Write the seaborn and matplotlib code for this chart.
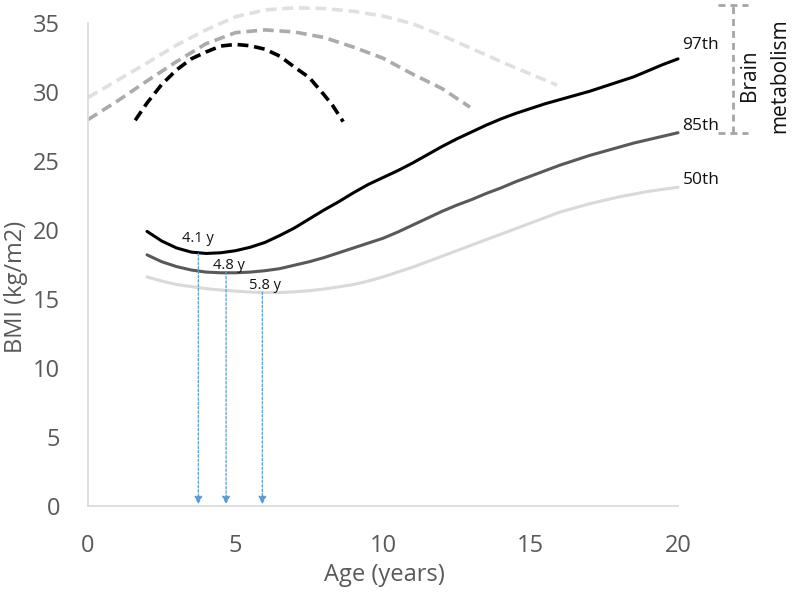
import numpy as np
import pandas as pd
import matplotlib
matplotlib.use("Agg")
import matplotlib.pyplot as plt
import seaborn as sns

# ---------------- data ----------------
age_solid = [2, 2.5, 3, 3.5, 4, 4.5, 5, 5.5, 6, 6.5, 7, 7.5, 8, 8.5, 9, 9.5, 10,
             10.5, 11, 11.5, 12, 12.5, 13, 13.5, 14, 14.5, 15, 15.5, 16, 16.5, 17,
             17.5, 18, 18.5, 19, 19.5, 20]
bmi_p97 = [19.9, 19.2, 18.7, 18.4, 18.3, 18.35, 18.5, 18.75, 19.1, 19.6, 20.15, 20.8,
           21.45, 22.05, 22.7, 23.3, 23.8,
           24.3, 24.85, 25.45, 26.05, 26.6, 27.1, 27.6, 28.05, 28.45, 28.8, 29.15, 29.45,
           29.75, 30.05, 30.4, 30.75, 31.1, 31.55, 32.0, 32.4]
bmi_p85 = [18.2, 17.7, 17.35, 17.1, 16.95, 16.9, 16.9, 16.95, 17.05, 17.2, 17.45, 17.7,
           18.0, 18.35, 18.7, 19.05, 19.4,
           19.85, 20.35, 20.85, 21.35, 21.8, 22.2, 22.65, 23.05, 23.5, 23.9, 24.3, 24.7,
           25.05, 25.4, 25.7, 26.0, 26.3, 26.55, 26.8, 27.05]
bmi_p50 = [16.6, 16.3, 16.05, 15.9, 15.75, 15.65, 15.57, 15.5, 15.47, 15.47, 15.52, 15.6,
           15.72, 15.88, 16.05, 16.3, 16.6,
           16.95, 17.3, 17.7, 18.1, 18.5, 18.9, 19.3, 19.7, 20.1, 20.5, 20.9, 21.3,
           21.6, 21.9, 22.15, 22.4, 22.6, 22.8, 22.95, 23.1]

age_brain_light = [0, 1, 2, 3, 4, 5, 6, 7, 8, 9, 10, 11, 12, 13, 14, 15, 15.9]
brain_light = [29.6, 30.85, 32.1, 33.4, 34.5, 35.45, 35.95, 36.1, 36.05, 35.85, 35.5,
               34.95, 34.1, 33.15, 32.2, 31.3, 30.5]
age_brain_mid = [0, 1, 2, 3, 4, 5, 6, 7, 8, 9, 10, 11, 12, 12.95]
brain_mid = [28.0, 29.35, 30.8, 32.2, 33.5, 34.3, 34.5, 34.35, 33.95, 33.25, 32.45,
             31.3, 30.25, 28.9]
age_brain_dark = [1.6, 2, 2.5, 3, 3.5, 4, 4.5, 5, 5.5, 6, 6.5, 7, 7.5, 8, 8.3, 8.65]
brain_dark = [27.95, 29.2, 30.55, 31.6, 32.4, 32.9, 33.33, 33.45, 33.35, 33.1, 32.6,
              31.8, 31.05, 29.8, 29.0, 27.85]

rebound_age = [3.74, 4.68, 5.91]
rebound_top = [18.3, 16.95, 15.5]
rebound_labels = ["4.1 y", "4.8 y", "5.8 y"]
rebound_label_pos = [(3.73, 19.4), (4.78, 17.45), (6.0, 16.0)]

pct_labels = ["97th", "85th", "50th"]
pct_label_y = [33.4, 27.5, 23.6]

x_ticks = [0, 5, 10, 15, 20]
y_ticks = [0, 5, 10, 15, 20, 25, 30, 35]

bracket_x = 21.86
bracket_range = (27.0, 36.3)

# ---------------- style ----------------
sns.set_style("white")
plt.rcParams["font.family"] = ["Open Sans", "DejaVu Sans"]

fig = plt.figure(figsize=(7.93, 5.92), dpi=100)
ax = fig.add_axes([0, 0, 1, 1])
ax.set_xlim(-88 / 29.5, 705 / 29.5)
ax.set_ylim(-86 / 13.8, 506 / 13.8)

dash = (0, (3, 1.6))
sns.lineplot(x=age_brain_light, y=brain_light, ax=ax, color="#e0e0e0", lw=2.6, linestyle=dash)
sns.lineplot(x=age_brain_mid, y=brain_mid, ax=ax, color="#a9acac", lw=2.6, linestyle=dash)
sns.lineplot(x=age_brain_dark, y=brain_dark, ax=ax, color="#000000", lw=2.6, linestyle=dash)

df = pd.DataFrame({"age": age_solid * 3,
                   "bmi": bmi_p97 + bmi_p85 + bmi_p50,
                   "pct": ["97th"] * len(age_solid) + ["85th"] * len(age_solid) + ["50th"] * len(age_solid)})
sns.lineplot(data=df, x="age", y="bmi", hue="pct",
             palette={"97th": "#000000", "85th": "#595959", "50th": "#d9d9d9"},
             lw=2.2, ax=ax, legend=False)

for xa, yt in zip(rebound_age, rebound_top):
    ax.annotate("", xy=(xa, 0.12), xytext=(xa, yt),
                arrowprops=dict(arrowstyle="-|>", color="#5b9bd5", lw=0.9,
                                linestyle=(0, (2, 1.5)), mutation_scale=12,
                                shrinkA=0, shrinkB=0))
for lab, (lx, ly) in zip(rebound_labels, rebound_label_pos):
    ax.text(lx, ly, lab, ha="center", va="center", fontsize=10.5, color="#111111")

for lab, ly in zip(pct_labels, pct_label_y):
    ax.text(20.15, ly, lab, ha="left", va="center", fontsize=12.5, color="#111111")

# bracket
bc = "#a6a6a6"
ax.plot([bracket_x, bracket_x], bracket_range, color=bc, lw=2, linestyle=(0, (2.5, 1.8)))
for yb in bracket_range:
    ax.plot([bracket_x - 0.5, bracket_x + 0.5], [yb, yb], color=bc, lw=2, linestyle=(0, (2.5, 1.8)))
ax.text(22.44, 31.2, "Brain", rotation=90, ha="center", va="center", fontsize=15, color="#111111")
ax.text(23.46, 31.2, "metabolism", rotation=90, ha="center", va="center", fontsize=15, color="#111111")

# axes styling
for s in ["top", "right"]:
    ax.spines[s].set_visible(False)
ax.spines["left"].set_position(("data", 0))
ax.spines["bottom"].set_position(("data", 0))
ax.spines["left"].set_bounds(0, 35)
ax.spines["bottom"].set_bounds(0, 20)
for s in ["left", "bottom"]:
    ax.spines[s].set_color("#d9d9d9")
    ax.spines[s].set_linewidth(1.2)
ax.set_xticks(x_ticks)
ax.set_yticks(y_ticks)
ax.tick_params(axis="x", direction="inout", length=13, width=1, color="#d0d0d0",
               pad=14, labelsize=17, labelcolor="#595959")
ax.tick_params(axis="y", length=0, pad=20, labelsize=17, labelcolor="#595959")
ax.set_xlabel("Age (years)", fontsize=17, color="#595959")
ax.set_ylabel("BMI (kg/m2)", fontsize=17, color="#595959")
ax.xaxis.set_label_coords(384 / 793, (592 - 575) / 592)
ax.xaxis.label.set_va("center")
ax.yaxis.set_label_coords(16 / 793, (592 - 287) / 592)
ax.yaxis.label.set_va("center")
ax.patch.set_alpha(0)

fig.savefig("out.png", dpi=100)
